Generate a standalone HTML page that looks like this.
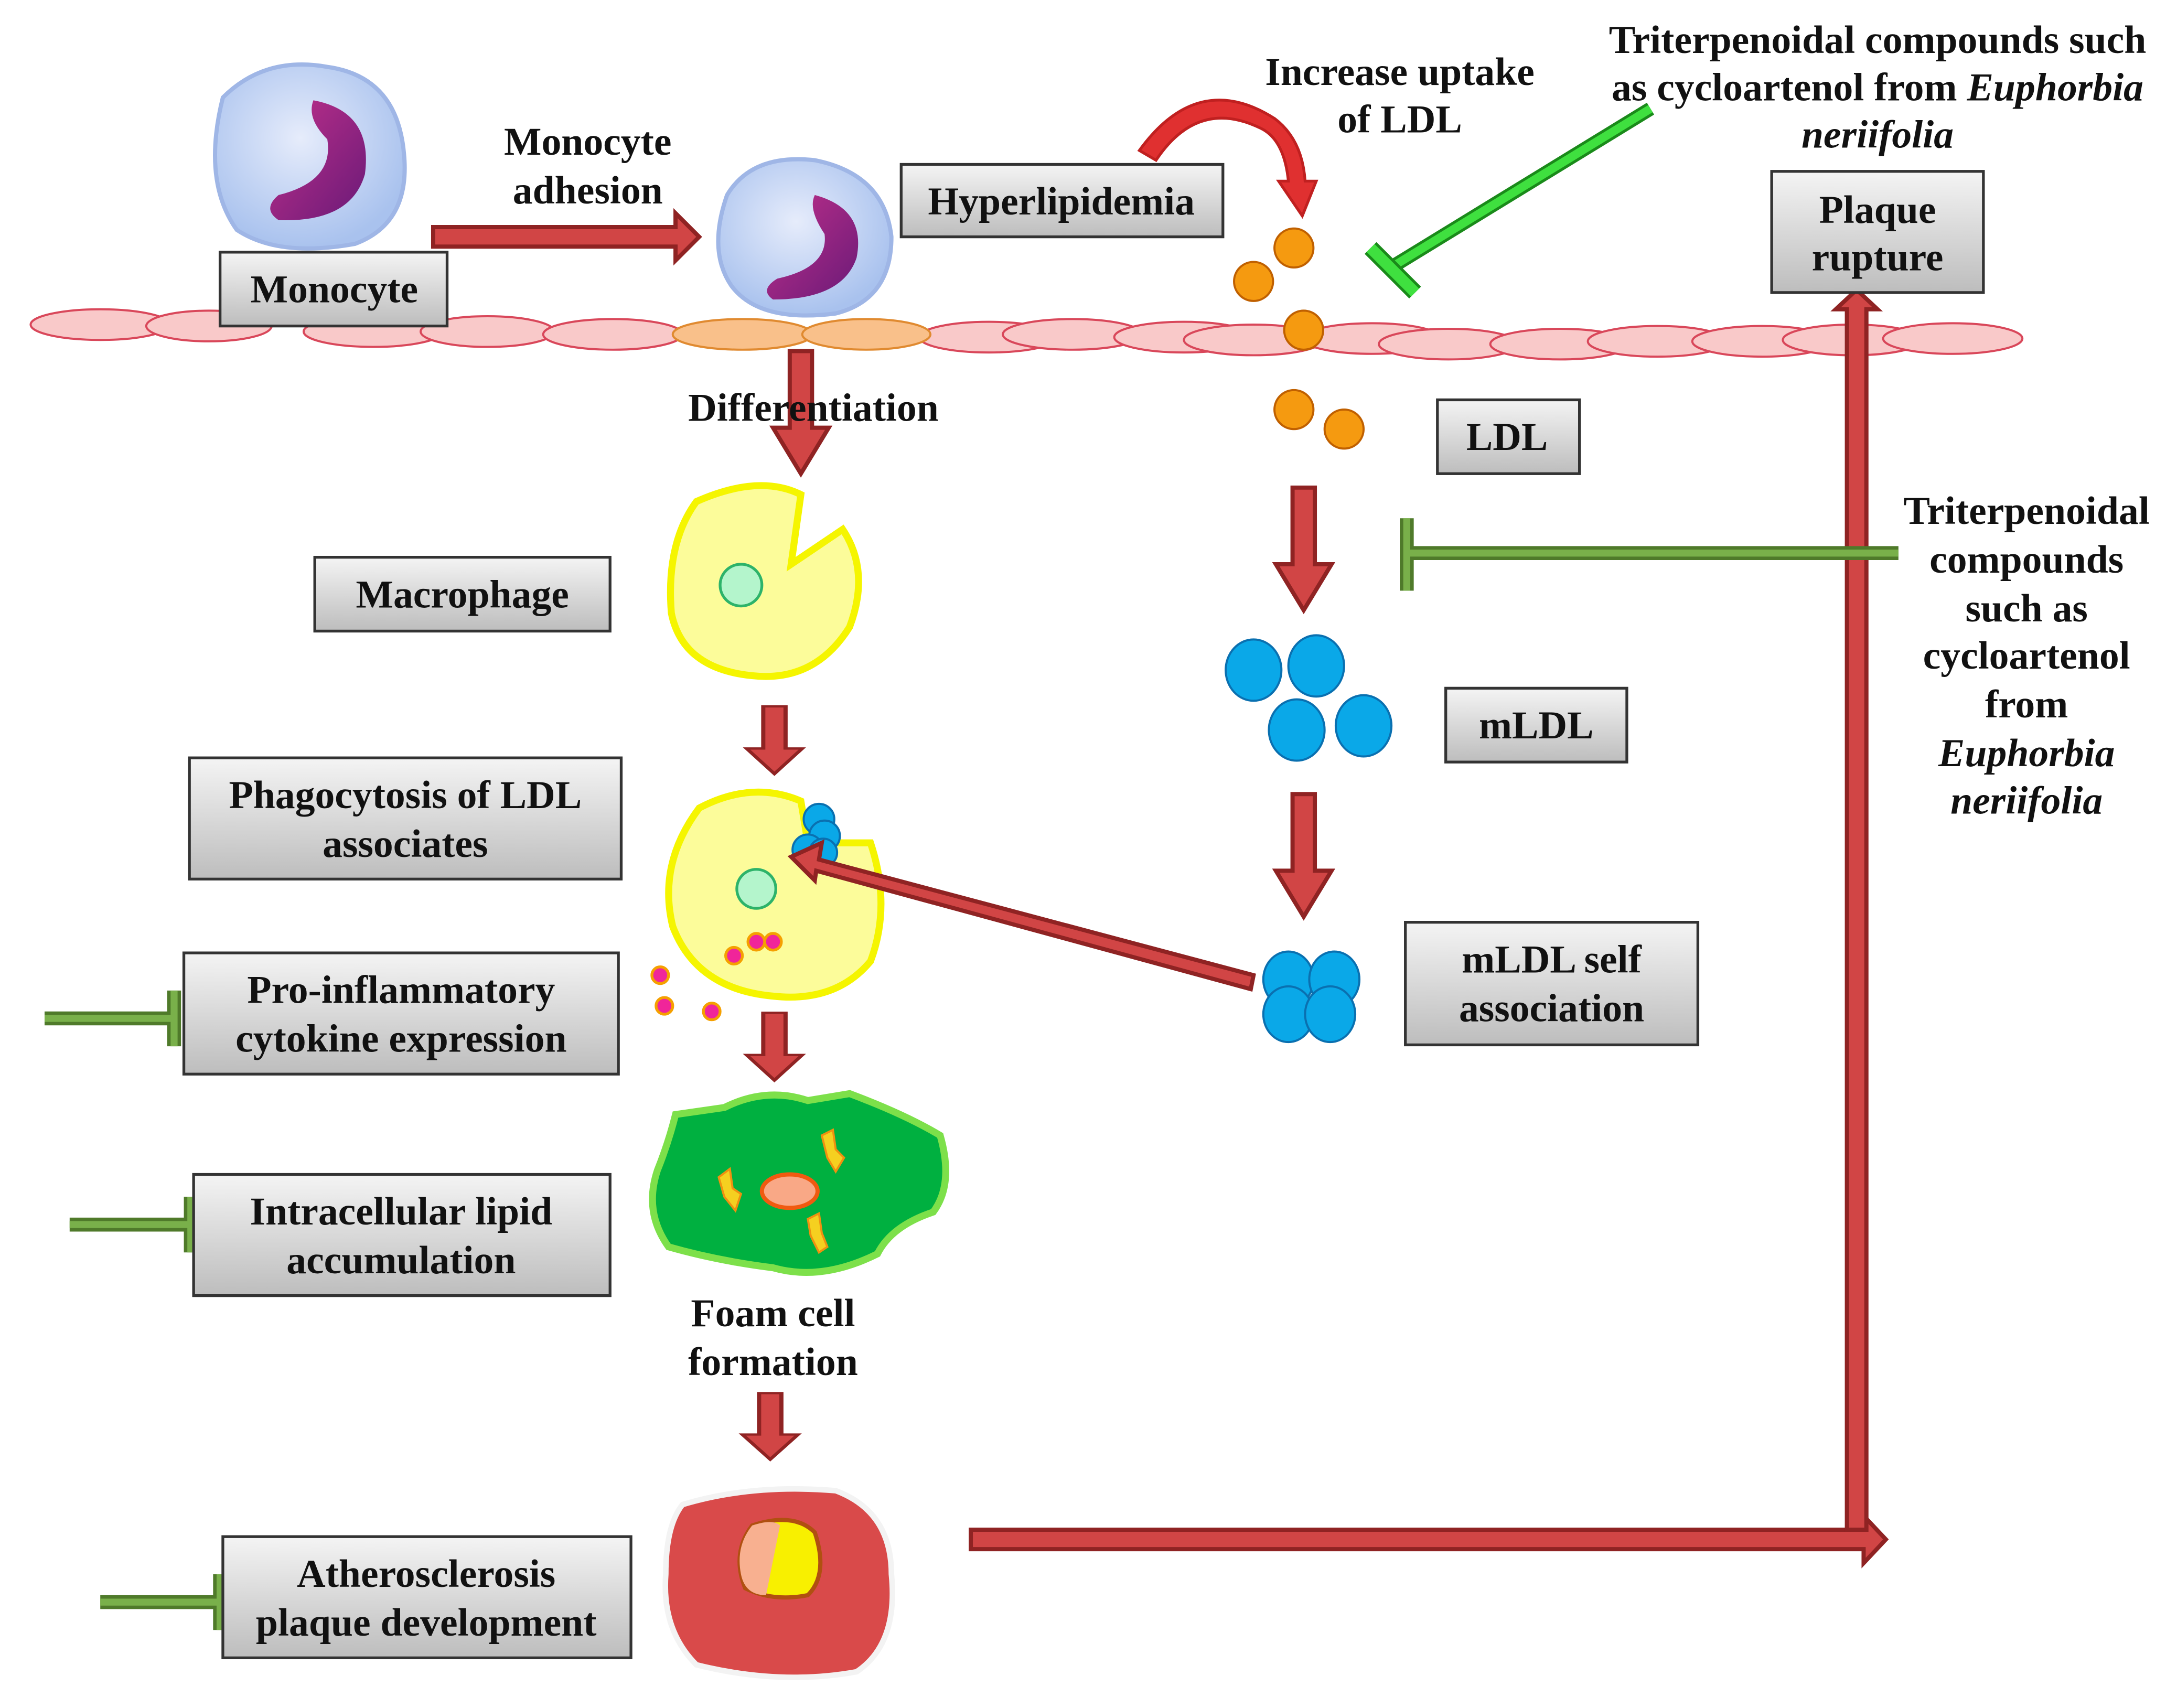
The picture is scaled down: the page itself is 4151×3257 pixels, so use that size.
<!DOCTYPE html>
<html><head><meta charset="utf-8">
<style>
html,body{margin:0;padding:0;background:#fff;}
svg{display:block;}
text{font-family:"Liberation Serif",serif;font-weight:bold;font-size:28.5px;fill:#111;text-anchor:middle;}
</style></head>
<body>
<svg width="4151" height="3257" viewBox="0 0 1563 1226" preserveAspectRatio="none" xmlns="http://www.w3.org/2000/svg">
<defs>
<linearGradient id="bx" x1="0" y1="0" x2="0" y2="1">
<stop offset="0" stop-color="#f4f4f4"/><stop offset="1" stop-color="#bdbdbd"/></linearGradient>
<radialGradient id="mono" cx="0.45" cy="0.4" r="0.6">
<stop offset="0" stop-color="#e6ecfb"/><stop offset="1" stop-color="#a9c2ee"/></radialGradient>
<linearGradient id="nuc" x1="0" y1="0" x2="1" y2="1">
<stop offset="0" stop-color="#c0308a"/><stop offset="1" stop-color="#6a1a78"/></linearGradient>
<g id="arrD"><path d="M-8,0 H8 V55 H20 L0,88 L-20,55 H-8 Z" fill="#d14545" stroke="#8f2323" stroke-width="3"/></g>
</defs>
<rect width="1563" height="1226" fill="#fff"/>

<!-- endothelium -->
<g fill="#f9c9c9" stroke="#d9475a" stroke-width="1.5">
<ellipse cx="72" cy="233" rx="50" ry="11"/><ellipse cx="150" cy="234" rx="45" ry="11"/>
<ellipse cx="268" cy="238" rx="50" ry="11"/><ellipse cx="350" cy="238" rx="48" ry="11"/>
<ellipse cx="440" cy="240" rx="50" ry="11"/>
<ellipse cx="710" cy="242" rx="50" ry="11"/><ellipse cx="770" cy="240" rx="50" ry="11"/>
<ellipse cx="850" cy="242" rx="50" ry="11"/><ellipse cx="900" cy="244" rx="50" ry="11"/>
<ellipse cx="985" cy="243" rx="50" ry="11"/><ellipse cx="1040" cy="247" rx="50" ry="11"/>
<ellipse cx="1120" cy="247" rx="50" ry="11"/><ellipse cx="1190" cy="245" rx="50" ry="11"/>
<ellipse cx="1265" cy="245" rx="50" ry="11"/><ellipse cx="1330" cy="244" rx="50" ry="11"/>
<ellipse cx="1402" cy="243" rx="50" ry="11"/>
</g>
<g fill="#f9c08a" stroke="#e08a30" stroke-width="1.5">
<ellipse cx="533" cy="240" rx="50" ry="11"/><ellipse cx="622" cy="240" rx="46" ry="11"/>
</g>

<!-- monocytes -->
<path d="M160,70 Q190,40 235,48 Q285,55 290,110 Q295,160 255,175 Q200,185 170,165 Q145,130 160,70 Z" fill="url(#mono)" stroke="#9fb6e6" stroke-width="3"/>
<path d="M225,72 Q268,80 262,125 Q252,160 200,158 Q188,150 200,140 Q240,130 235,100 Q220,85 225,72 Z" fill="url(#nuc)"/>
<path d="M522,140 Q540,110 585,115 Q635,125 640,170 Q640,215 600,225 Q545,232 525,205 Q508,180 522,140 Z" fill="url(#mono)" stroke="#9fb6e6" stroke-width="3"/>
<path d="M585,140 Q622,150 615,185 Q605,215 555,215 Q545,208 558,200 Q595,192 592,168 Q580,150 585,140 Z" fill="url(#nuc)"/>

<!-- macrophage -->
<path d="M500,360 Q545,340 575,355 L568,405 L605,380 Q625,410 610,450 Q585,490 540,485 Q490,480 482,440 Q478,390 500,360 Z" fill="#fcfc9a" stroke="#f5f500" stroke-width="5"/>
<circle cx="532" cy="420" r="15" fill="#b4f5cc" stroke="#2db36a" stroke-width="2"/>

<!-- phagocytosing cell -->
<path d="M502,580 Q540,560 575,575 L580,605 L625,605 Q640,650 625,690 Q600,720 555,715 Q500,710 483,665 Q472,620 502,580 Z" fill="#fcfc9a" stroke="#f5f500" stroke-width="5"/>
<circle cx="543" cy="638" r="14" fill="#b4f5cc" stroke="#2db36a" stroke-width="2"/>
<g fill="#0aa8e8" stroke="#0a70b0" stroke-width="1.5">
<circle cx="588" cy="588" r="11"/><circle cx="592" cy="600" r="11"/><circle cx="580" cy="610" r="11"/><circle cx="591" cy="612" r="10"/>
</g>
<g fill="#f0259a" stroke="#f5a000" stroke-width="2">
<circle cx="527" cy="686" r="6"/><circle cx="543" cy="676" r="6"/><circle cx="555" cy="676" r="6"/>
<circle cx="474" cy="700" r="6"/><circle cx="477" cy="722" r="6"/><circle cx="511" cy="726" r="6"/>
</g>

<!-- foam cell -->
<path d="M485,800 L520,795 Q550,780 580,790 L610,785 Q650,800 675,815 Q685,850 670,870 Q640,880 630,900 Q590,920 555,910 Q515,905 480,895 Q462,870 472,840 Q480,820 485,800 Z" fill="#00b040" stroke="#7de04a" stroke-width="5"/>
<ellipse cx="567" cy="855" rx="20" ry="12" fill="#f9a886" stroke="#f05a10" stroke-width="3"/>
<g fill="#f5d020" stroke="#f09010" stroke-width="1.5">
<path d="M516,845 l8,-6 l2,14 l6,4 l-4,12 l-8,-10 z"/><path d="M590,815 l8,-4 l2,14 l6,6 l-6,10 l-6,-10 z"/><path d="M580,875 l8,-4 l2,14 l4,10 l-6,4 l-6,-12 z"/>
</g>

<!-- plaque -->
<path d="M490,1080 Q540,1065 600,1070 Q640,1085 640,1130 Q645,1180 615,1200 Q560,1210 500,1195 Q475,1170 478,1130 Q478,1095 490,1080 Z" fill="#d94a4a" stroke="#f3f3f3" stroke-width="4"/>
<path d="M540,1095 Q570,1085 585,1100 Q595,1130 580,1145 Q555,1150 535,1140 Q525,1115 540,1095 Z" fill="#f8f000" stroke="#b05010" stroke-width="3"/>
<path d="M540,1095 Q555,1090 560,1095 L550,1145 Q535,1145 532,1130 Q528,1110 540,1095 Z" fill="#f8b090"/>

<!-- LDL -->
<g fill="#f59a10" stroke="#c06000" stroke-width="1.5">
<circle cx="929" cy="178" r="14"/><circle cx="900" cy="202" r="14"/><circle cx="936" cy="237" r="14"/><circle cx="929" cy="294" r="14"/><circle cx="965" cy="308" r="14"/>
</g>
<g fill="#0aa8e8" stroke="#0a70b0" stroke-width="1.5">
<ellipse cx="900" cy="481" rx="20" ry="22"/><ellipse cx="945" cy="478" rx="20" ry="22"/><ellipse cx="931" cy="524" rx="20" ry="22"/><ellipse cx="979" cy="521" rx="20" ry="22"/>
<ellipse cx="925" cy="703" rx="18" ry="20"/><ellipse cx="958" cy="703" rx="18" ry="20"/><ellipse cx="925" cy="728" rx="18" ry="20"/><ellipse cx="955" cy="728" rx="18" ry="20"/>
</g>

<!-- red arrows -->
<path d="M311,163 H485 V153 L502,170 L485,187 V177 H311 Z" fill="#d14545" stroke="#8f2323" stroke-width="3"/>
<use href="#arrD" transform="translate(575,252)"/>
<use href="#arrD" transform="translate(556,507) scale(1,0.55)"/>
<use href="#arrD" transform="translate(556,727) scale(1,0.55)"/>
<use href="#arrD" transform="translate(553,1000) scale(1,0.54)"/>
<use href="#arrD" transform="translate(936,350)"/>
<use href="#arrD" transform="translate(936,570)"/>
<path d="M900,700 L588,617 L590,605 L568,615 L585,632 L586,625 L898,710 Z" fill="#d14545" stroke="#8f2323" stroke-width="3"/>
<path d="M697,1098 H1338 V1088 L1354,1105 L1338,1122 V1112 H697 Z" fill="#d14545" stroke="#8f2323" stroke-width="3"/>
<path d="M1326,1098 V222 H1318 L1333,208 L1348,222 H1340 V1098 Z" fill="#d14545" stroke="#8f2323" stroke-width="3"/>
<path d="M818,108 Q860,50 915,85 Q935,100 937,130 L945,130 L935,155 L918,130 L925,130 Q922,100 905,92 Q860,70 830,115 Z" fill="#e03030" stroke="#c02020" stroke-width="2"/>

<!-- inhibitors -->
<path d="M1185,78 L1002,190" stroke="#1a8a1a" stroke-width="10"/>
<path d="M1185,78 L1002,190" stroke="#3fe03f" stroke-width="6"/>
<path d="M984,178 L1016,210" stroke="#1a8a1a" stroke-width="12"/>
<path d="M984,178 L1016,210" stroke="#3fe03f" stroke-width="8"/>
<g stroke="#4f7a2a" stroke-width="10" fill="none">
<path d="M1363,397 H1010 M1010,372 V424"/>
<path d="M32,731 H125 M125,711 V751"/>
<path d="M50,879 H137 M137,859 V899"/>
<path d="M72,1150 H158 M158,1130 V1170"/>
</g>
<g stroke="#79b04a" stroke-width="5" fill="none">
<path d="M1363,397 H1010 M1010,372 V424"/>
<path d="M32,731 H125 M125,711 V751"/>
<path d="M50,879 H137 M137,859 V899"/>
<path d="M72,1150 H158 M158,1130 V1170"/>
</g>

<!-- boxes -->
<g fill="url(#bx)" stroke="#333" stroke-width="2">
<rect x="158" y="181" width="163" height="53"/>
<rect x="647" y="118" width="231" height="52"/>
<rect x="1272" y="123" width="152" height="87"/>
<rect x="1032" y="287" width="102" height="53"/>
<rect x="226" y="400" width="212" height="53"/>
<rect x="1038" y="494" width="130" height="53"/>
<rect x="136" y="544" width="310" height="87"/>
<rect x="1009" y="662" width="210" height="88"/>
<rect x="132" y="684" width="312" height="87"/>
<rect x="139" y="843" width="299" height="87"/>
<rect x="160" y="1103" width="293" height="87"/>
</g>
<text x="240" y="217">Monocyte</text>
<text x="762" y="154">Hyperlipidemia</text>
<text x="1348" y="160">Plaque</text><text x="1348" y="194">rupture</text>
<text x="1082" y="323">LDL</text>
<text x="332" y="436">Macrophage</text>
<text x="1103" y="530">mLDL</text>
<text x="291" y="580">Phagocytosis of LDL</text><text x="291" y="615">associates</text>
<text x="1114" y="698">mLDL self</text><text x="1114" y="733">association</text>
<text x="288" y="720">Pro-inflammatory</text><text x="288" y="755">cytokine expression</text>
<text x="288" y="879">Intracellular lipid</text><text x="288" y="914">accumulation</text>
<text x="306" y="1139">Atherosclerosis</text><text x="306" y="1174">plaque development</text>

<text x="422" y="111">Monocyte</text><text x="422" y="146">adhesion</text>
<text x="584" y="302">Differentiation</text>
<text x="1005" y="61">Increase uptake</text><text x="1005" y="95">of LDL</text>
<text x="1348" y="38">Triterpenoidal compounds such</text>
<text x="1348" y="72">as cycloartenol from <tspan font-style="italic">Euphorbia</tspan></text>
<text x="1348" y="106" font-style="italic">neriifolia</text>
<text x="1455" y="376">Triterpenoidal</text><text x="1455" y="411">compounds</text>
<text x="1455" y="446">such as</text><text x="1455" y="480">cycloartenol</text>
<text x="1455" y="515">from</text>
<text x="1455" y="550" font-style="italic">Euphorbia</text><text x="1455" y="584" font-style="italic">neriifolia</text>
<text x="555" y="952">Foam cell</text><text x="555" y="987">formation</text>
</svg>
</body></html>
